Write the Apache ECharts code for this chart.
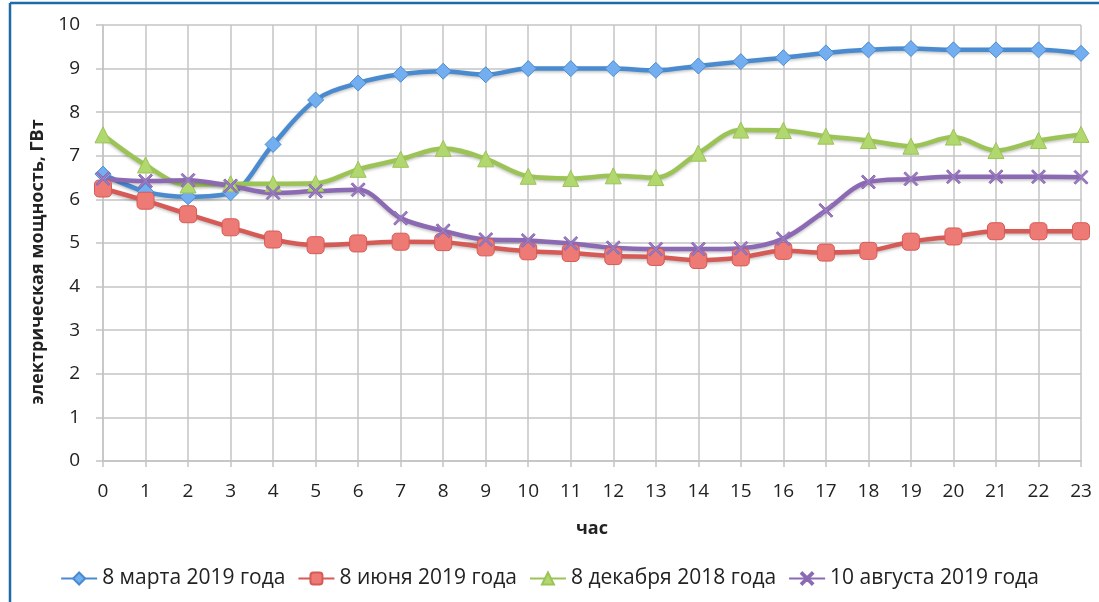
<!DOCTYPE html>
<html lang="ru">
<head>
    <meta charset="UTF-8">
    <title>Электрическая мощность</title>
    <script src="https://cdn.jsdelivr.net/npm/echarts@6/dist/echarts.min.js"></script>
    <style>
        html, body { margin: 0; padding: 0; background: #fff; }
        #main { width: 1099px; height: 602px; }
    </style>
</head>
<body>
    <div id="main"></div>
    <script>
        // часы суток
        var hours = ['0','1','2','3','4','5','6','7','8','9','10','11','12','13','14','15','16','17','18','19','20','21','22','23'];
        var seriesNames = ['8 марта 2019 года', '8 июня 2019 года', '8 декабря 2018 года', '10 августа 2019 года'];
        var yTitle = 'электрическая мощность, ГВт';

        // значения, ГВт
        var march = [6.58, 6.18, 6.06, 6.15, 7.26, 8.28, 8.67, 8.87, 8.94, 8.86, 9.0, 9.0, 9.0, 8.96, 9.06, 9.16, 9.25, 9.36, 9.43, 9.46, 9.43, 9.43, 9.43, 9.35];
        var june = [6.25, 5.97, 5.66, 5.36, 5.08, 4.95, 4.99, 5.03, 5.02, 4.9, 4.81, 4.77, 4.7, 4.68, 4.61, 4.67, 4.82, 4.78, 4.82, 5.03, 5.15, 5.27, 5.27, 5.27];
        var december = [7.48, 6.79, 6.33, 6.36, 6.36, 6.37, 6.69, 6.92, 7.17, 6.93, 6.53, 6.48, 6.54, 6.5, 7.06, 7.59, 7.58, 7.45, 7.35, 7.22, 7.43, 7.12, 7.35, 7.49];
        var august = [6.48, 6.42, 6.44, 6.31, 6.15, 6.19, 6.22, 5.57, 5.28, 5.08, 5.06, 4.99, 4.89, 4.86, 4.86, 4.88, 5.1, 5.75, 6.4, 6.47, 6.52, 6.52, 6.52, 6.51];

        var crossPath = 'path://M1,0L5,4L9,0L10,1L6,5L10,9L9,10L5,6L1,10L0,9L4,5L0,1Z';

        var myChart = echarts.init(document.getElementById('main'));

        function makeSeries(name, data, lineColor, markColor, symbol, size) {
            return {
                name: name,
                type: 'line',
                data: data,
                smooth: 0.35,
                symbol: symbol,
                symbolSize: size,
                showAllSymbol: true,
                lineStyle: {
                    width: 4.5,
                    color: lineColor,
                    shadowColor: 'rgba(0,0,0,0.25)',
                    shadowBlur: 3,
                    shadowOffsetY: 1.5
                },
                itemStyle: {
                    color: markColor,
                    borderColor: lineColor,
                    borderWidth: 1
                }
            };
        }

        var option = {
            animation: false,
            backgroundColor: '#fff',
            textStyle: { fontFamily: 'Open Sans, DejaVu Sans, sans-serif' },
            grid: { left: 103, right: 18, top: 25, bottom: 141 },
            legend: {
                bottom: 8,
                left: 'center',
                itemWidth: 36,
                itemHeight: 15,
                itemGap: 12,
                textStyle: { fontSize: 21, color: '#222' },
                data: seriesNames
            },
            xAxis: {
                type: 'category',
                data: hours,
                boundaryGap: false,
                name: 'час',
                nameLocation: 'middle',
                nameGap: 59,
                nameTextStyle: { fontSize: 18, fontWeight: 'bold', color: '#222' },
                axisLine: { lineStyle: { color: '#c4c4c4', width: 1.5 } },
                axisTick: { show: true, inside: false, length: 6, alignWithLabel: true, lineStyle: { color: '#c4c4c4', width: 1.5 } },
                axisLabel: { fontSize: 19, color: '#222', margin: 21, interval: 0 },
                splitLine: { show: true, lineStyle: { color: '#c4c4c4', width: 1.5 } }
            },
            yAxis: {
                type: 'value',
                min: 0,
                max: 10,
                interval: 1,
                axisLine: { show: true, lineStyle: { color: '#c4c4c4', width: 1.5 } },
                axisTick: { show: true, length: 7, lineStyle: { color: '#c4c4c4', width: 1.5 } },
                axisLabel: { fontSize: 19, color: '#222', margin: 23 },
                splitLine: { show: true, lineStyle: { color: '#c4c4c4', width: 1.5 } }
            },
            graphic: [
                { type: 'line', shape: { x1: 10, y1: 3, x2: 1099, y2: 3 }, style: { stroke: '#1f6aa8', lineWidth: 2.5 } },
                { type: 'line', shape: { x1: 10, y1: 3, x2: 10, y2: 602 }, style: { stroke: '#1f6aa8', lineWidth: 2.5 } },
                {
                    type: 'text', x: 38, y: 262, rotation: Math.PI / 2,
                    style: {
                        text: yTitle, align: 'center', verticalAlign: 'middle',
                        font: 'bold 18px "Open Sans", sans-serif', fill: '#222'
                    }
                }
            ],
            series: [
                makeSeries(seriesNames[0], march, '#4a8bd0', '#72aef0', 'diamond', 16),
                makeSeries(seriesNames[1], june, '#d65a55', '#ee7a76', 'roundRect', 17),
                makeSeries(seriesNames[2], december, '#9cc356', '#b1d86e', 'triangle', 16),
                makeSeries(seriesNames[3], august, '#8b69b3', '#9a7cc2', crossPath, 14)
            ]
        };

        myChart.setOption(option);
    </script>
</body>
</html>
